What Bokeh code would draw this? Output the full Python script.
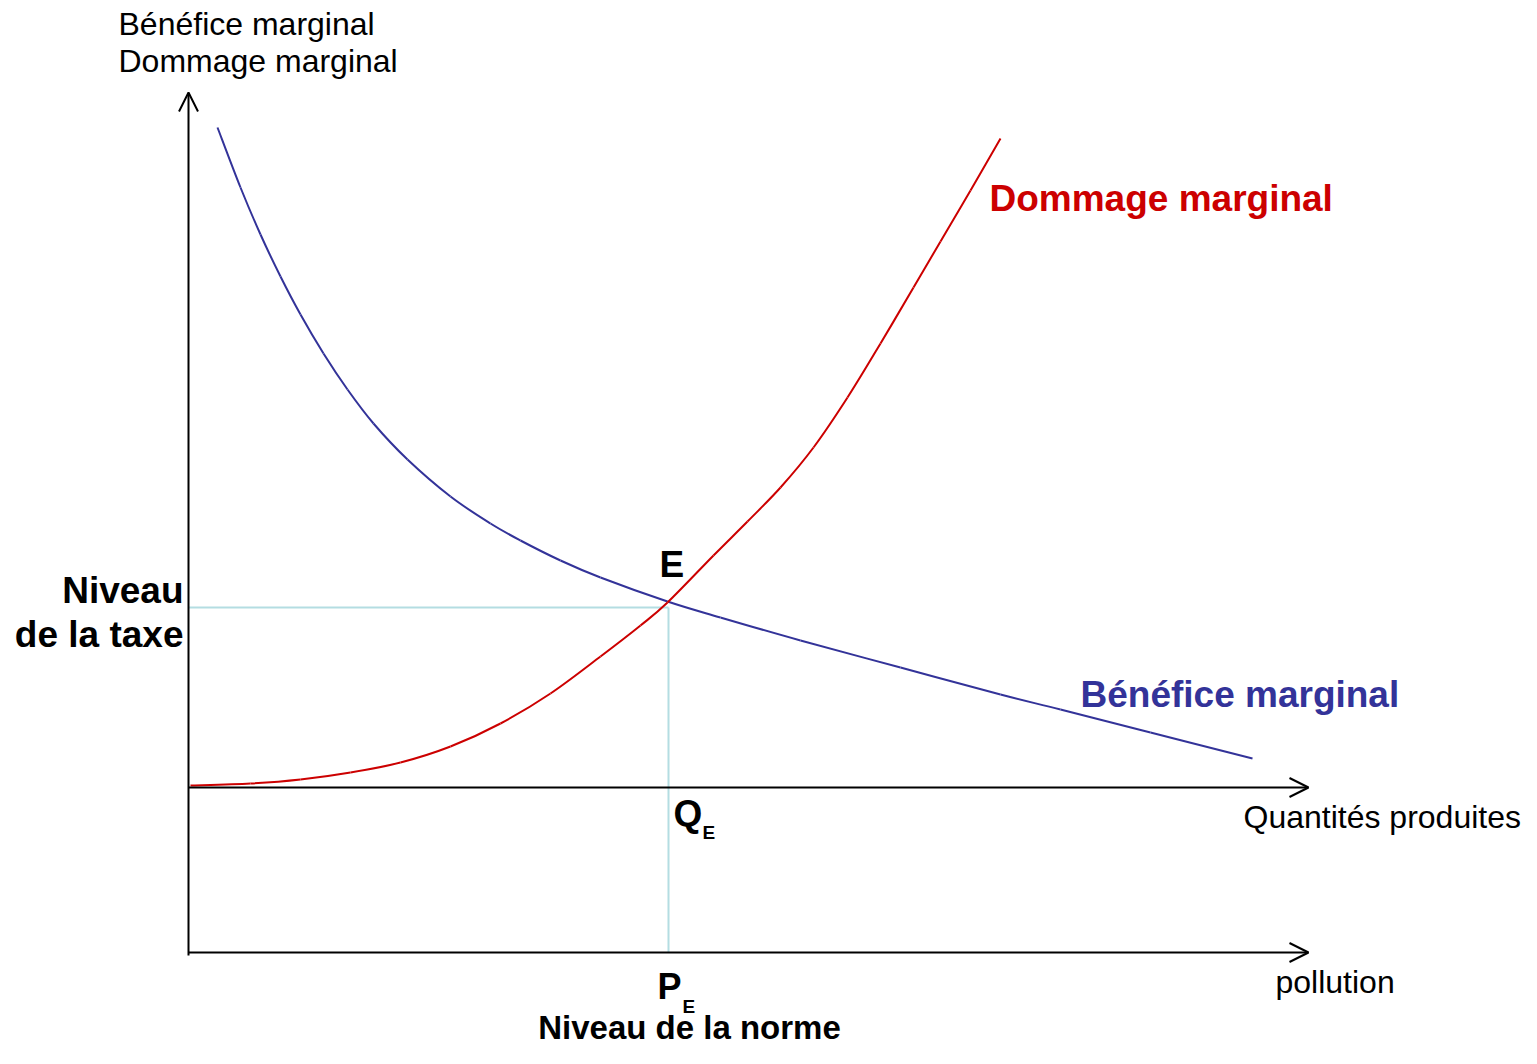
from bokeh.plotting import figure
from bokeh.models import Range1d, Label, Arrow, OpenHead
from bokeh.embed import file_html
from bokeh.resources import INLINE

# ---- data (abstract units: quantity on x, value on y; origin at the axes' crossing) ----
benefice_q = [29, 52, 72, 92, 112, 135, 159, 185, 219, 262, 302, 332, 372, 412, 479,
              532, 612, 712, 812, 872, 962, 1064]
benefice_v = [660, 600, 553, 511, 473, 434, 398, 364, 328, 291, 264, 247, 227, 210, 186,
              170, 147, 120, 93, 78, 55, 29]

dommage_q = [2, 62, 112, 162, 212, 262, 312, 362, 412, 452, 479, 525, 559, 592, 625,
             659, 692, 725, 752, 782, 812]
dommage_v = [2, 4, 8, 15, 25, 41, 64, 94, 131, 162, 185, 232, 266, 300, 340,
             390, 444, 500, 546, 597, 649]

q_equilibre = 480       # Q_E / P_E
taxe = 180              # niveau de la taxe
axe_pollution = -165    # level of the pollution axis
axe_max_x = 1120
axe_max_y = 695

W, H = 1521, 1048
X0, Y0 = 188, 787       # canvas position of the origin
p = figure(width=W, height=H, output_backend="svg", toolbar_location=None,
           x_range=Range1d(-X0, W - X0), y_range=Range1d(Y0 - H, Y0),
           x_axis_location=None, y_axis_location=None, min_border=0,
           outline_line_color=None, background_fill_color="white")
p.grid.visible = False

BLUE = "#333399"
RED = "#cc0000"
LIGHT = "#b4dde2"
FONT = "Liberation Sans"


def smooth(xs, ys, color):
    """Draw a smooth curve through the read points (Catmull-Rom as cubic Beziers)."""
    n = len(xs)
    d = dict(x0=[], y0=[], x1=[], y1=[], cx0=[], cy0=[], cx1=[], cy1=[])
    for i in range(n - 1):
        a = max(i - 1, 0)
        b = min(i + 2, n - 1)
        d["x0"].append(xs[i]); d["y0"].append(ys[i])
        d["x1"].append(xs[i + 1]); d["y1"].append(ys[i + 1])
        d["cx0"].append(xs[i] + (xs[i + 1] - xs[a]) / 6)
        d["cy0"].append(ys[i] + (ys[i + 1] - ys[a]) / 6)
        d["cx1"].append(xs[i + 1] - (xs[b] - xs[i]) / 6)
        d["cy1"].append(ys[i + 1] - (ys[b] - ys[i]) / 6)
    p.bezier(source=d, x0="x0", y0="y0", x1="x1", y1="y1", cx0="cx0", cy0="cy0",
             cx1="cx1", cy1="cy1", line_color=color, line_width=2)


# equilibrium guide lines
p.line([0, q_equilibre], [taxe, taxe], line_color=LIGHT, line_width=2)
p.line([q_equilibre, q_equilibre], [taxe, axe_pollution], line_color=LIGHT, line_width=2)

# curves
smooth(benefice_q, benefice_v, BLUE)
smooth(dommage_q, dommage_v, RED)

# axes with open arrow heads
p.add_layout(Arrow(end=OpenHead(size=19, line_width=2, line_color="black"),
                   x_start=0, y_start=axe_pollution - 3, x_end=0, y_end=axe_max_y,
                   line_width=2, line_color="black"))
p.add_layout(Arrow(end=OpenHead(size=19, line_width=2, line_color="black"),
                   x_start=0, y_start=0, x_end=axe_max_x, y_end=0,
                   line_width=2, line_color="black"))
p.add_layout(Arrow(end=OpenHead(size=19, line_width=2, line_color="black"),
                   x_start=0, y_start=axe_pollution, x_end=axe_max_x, y_end=axe_pollution,
                   line_width=2, line_color="black"))


def lab(X, Y, text, size, color="black", bold=False, align="left"):
    # X, Y: canvas position of the text's left/right edge and baseline
    p.add_layout(Label(x=X - X0, y=Y0 - Y + 0.36 * size, text=text, text_font=FONT,
                       text_font_size=f"{size}px", text_color=color,
                       text_font_style="bold" if bold else "normal",
                       text_align=align, text_baseline="alphabetic"))


lab(118, 35, "Bénéfice marginal", 32)
lab(118, 72, "Dommage marginal", 32)
lab(183, 603, "Niveau", 37, bold=True, align="right")
lab(183, 647, "de la taxe", 37, bold=True, align="right")
lab(659, 577, "E", 37, bold=True)
lab(673, 826, "Q", 37, bold=True)
lab(702, 839, "E", 19, bold=True)
lab(657, 999, "P", 36, bold=True)
lab(682, 1013, "E", 19, bold=True)
lab(689, 1039, "Niveau de la norme", 33, bold=True, align="center")
lab(989, 211, "Dommage marginal", 37, color=RED, bold=True)
lab(1080, 707, "Bénéfice marginal", 37, color=BLUE, bold=True)
lab(1243, 828, "Quantités produites", 32)
lab(1275, 993, "pollution", 32)

open("out.html", "w").write(file_html(p, INLINE))
